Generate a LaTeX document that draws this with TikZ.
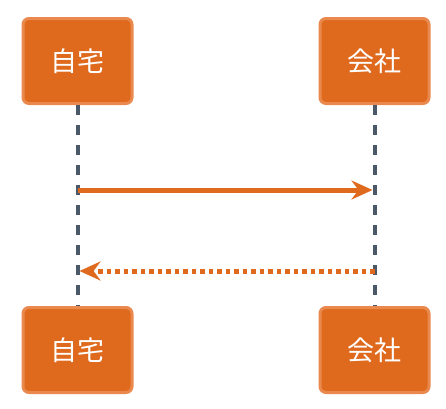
\documentclass[tikz,border=0pt]{standalone}
\usepackage{fontspec}
\newfontfamily\cjk{Noto Sans CJK JP}
\usetikzlibrary{positioning,arrows.meta}
\definecolor{boxfill}{HTML}{DF6A1E}
\definecolor{boxline}{HTML}{EA894E}
\definecolor{lifeline}{HTML}{4B5867}

\begin{document}
\begin{tikzpicture}[box/.style={draw=boxline,fill=boxfill,line width=3pt,
	rounded corners=6pt,
	minimum width=109pt,
	minimum height=85pt,
	text=white,
	font=\cjk\fontsize{27}{32}\selectfont},
  life/.style={draw=lifeline,line width=4pt,dash pattern=on 10pt off 10pt},
  msg/.style={draw=boxfill,line width=5pt,
  	-{Stealth[length=21pt,width=19pt,inset=7pt]},shorten >=2pt},
  reply/.style={msg,dash pattern=on 4.5pt off 4pt},
  node distance=185pt]
 \useasboundingbox (0,0) rectangle (446pt,-408pt);
 \node[box] (home) at (77.5pt,-61pt) {自宅};
 \node[box, right=of home] (office) {会社};
 \node[box, below=201pt of home] (home2) {自宅};
 \node[box, below=201pt of office] (office2) {会社};
 % lifelines
 \draw[life] (home.south) -- (home2.north);
 \draw[life] (office.south) -- (office2.north);
 % messages
 \coordinate[below=85pt of home.south] (go);
 \coordinate[below=166pt of office.south] (back);
 \draw[msg] (go) -- (go -| office);
 \draw[reply] (back) -- (back -| home);

\end{tikzpicture}
\end{document}
